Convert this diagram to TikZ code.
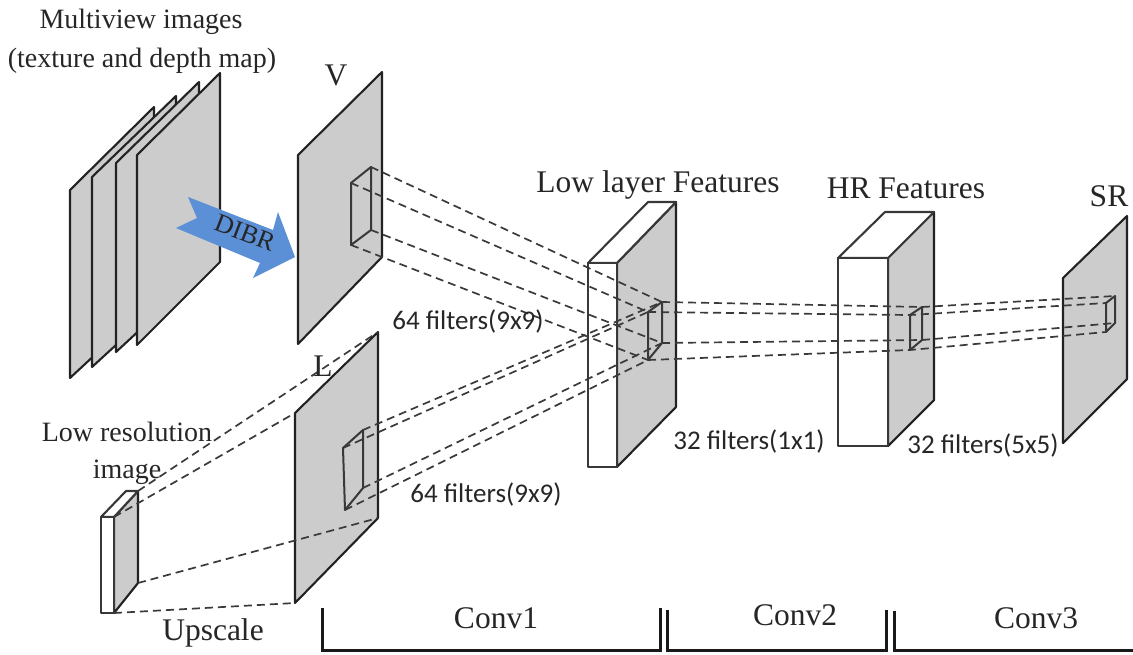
\documentclass[tikz,border=0pt]{standalone}
\usepackage{fontspec}
\setmainfont{Liberation Serif}
\newfontfamily\calfont{Carlito}
\usetikzlibrary{calc}
\definecolor{pl}{HTML}{CCCCCC}
\definecolor{ln}{HTML}{222222}
\definecolor{dsh}{HTML}{3A3A3A}
\definecolor{dibr}{HTML}{5B8FD6}
\tikzset{
  plane/.style={draw=ln,fill=pl,line width=2.1pt,line join=round},
  wface/.style={draw=ln!90,fill=white,line width=2.1pt,line join=round},
  inner/.style={draw=ln!90,line width=2pt,line join=round},
  dl/.style={draw=dsh,line width=1.7pt,dash pattern=on 8pt off 5pt},
  ser/.style={font=\fontsize{28}{28}\selectfont,text=black!85,inner sep=0pt},
  serb/.style={font=\fontsize{31.5}{32}\selectfont,text=black!85,inner sep=0pt},
  calb/.style={font=\calfont\fontsize{27}{27}\selectfont,text=black!85,inner sep=0pt},
  brk/.style={draw=black!90,line width=3pt,line join=miter},
}
\begin{document}
\begin{tikzpicture}[x=1pt,y=-1pt]
\useasboundingbox (0,0) rectangle (1133,654);
% coordinates
\coordinate (va) at (351,183);\coordinate (vb) at (371,167);\coordinate (vc) at (371,230);\coordinate (vd) at (351,245);
\coordinate (la) at (343,448);\coordinate (lb) at (363,430);\coordinate (lc) at (363,488);\coordinate (ld) at (345,510);
\coordinate (fa) at (648,312);\coordinate (fb) at (662,302);\coordinate (fc) at (662,343);\coordinate (fd) at (648,360);
\coordinate (ha) at (910,315);\coordinate (hb) at (922,307);\coordinate (hc) at (922,340);\coordinate (hd) at (910,350);
\coordinate (sa) at (1106,303);\coordinate (sb) at (1115,296);\coordinate (sc) at (1115,323);\coordinate (sd) at (1106,332);
\coordinate (ltl) at (295,413);\coordinate (ltr) at (378,332);\coordinate (lbr) at (378,518);\coordinate (lbl) at (295,603);
\coordinate (ia) at (138,491);\coordinate (ib) at (114,517);\coordinate (ic) at (138,583);\coordinate (id) at (114,613);
% multiview stack
\draw[plane] (70,190)--(154,107)--(154,300)--(70,378)--cycle;
\draw[plane] (92,177)--(176,96)--(176,290)--(92,367)--cycle;
\draw[plane] (116,163)--(199,82)--(199,275)--(116,352)--cycle;
\draw[plane] (137,155)--(220,73)--(220,262)--(137,345)--cycle;
% DIBR arrow
\fill[dibr] (188,197)--(197,218)--(176,228)--(260,263)--(253,278)--(295,257)--(278,212)--(273,230)--cycle;
\node[ser,rotate=-21,font=\fontsize{26}{26}\selectfont] (dibrlab) at (245,233) {DIBR};
% V plane
\draw[plane] (298,155)--(382,72)--(382,257)--(298,344)--cycle;
\draw[inner] (va)--(vb)--(vc)--(vd)--cycle;
% L plane
\draw[plane] (ltl)--(ltr)--(lbr)--(lbl)--cycle;
\draw[inner] (la)--(lb)--(lc)--(ld)--cycle;
% low-res block
\draw[plane] (114,517)--(138,491)--(138,583)--(114,613)--cycle;
\draw[wface] (101,517)--(126,491)--(138,491)--(114,517)--cycle;
\draw[wface] (101,517) rectangle (114,613);
% low layer block
\draw[plane] (617,263)--(676,202)--(676,407)--(617,467)--cycle;
\draw[wface] (588,263)--(648,202)--(676,202)--(617,263)--cycle;
\draw[wface] (588,263) rectangle (617,467);
\draw[inner] (fa)--(fb)--(fc)--(fd)--cycle;
% HR block
\draw[plane] (888,258)--(934,212)--(934,400)--(888,446)--cycle;
\draw[wface] (838,258)--(885,212)--(934,212)--(888,258)--cycle;
\draw[wface] (838,258) rectangle (888,446);
\draw[inner] (ha)--(hb)--(hc)--(hd)--cycle;
% SR plane
\draw[plane] (1063,278)--(1127,216)--(1127,379)--(1063,443)--cycle;
\draw[inner] (sa)--(sb)--(sc)--(sd)--cycle;
% dashed
\draw[dl] (vb)--(fb);\draw[dl] (va)--(fa);\draw[dl] (vc)--(fc);\draw[dl] (vd)--(fd);
\draw[dl] (lb)--(fb);\draw[dl] (la)--(fa);\draw[dl] (lc)--(fc);\draw[dl] (ld)--(fd);
\draw[dl] (ia)--(ltr);\draw[dl] (ib)--(ltl);\draw[dl] (ic)--(lbr);\draw[dl] (id)--(lbl);
\draw[dl] (fb)--(hb)--(sb);\draw[dl] (fa)--(ha)--(sa);\draw[dl] (fc)--(hc)--(sc);\draw[dl] (fd)--(hd)--(sd);
% brackets
\draw[brk] (322,608)--(322,650)--(660,650)--(660,608);
\draw[brk] (667,610)--(667,650)--(886,650)--(886,610);
\draw[brk] (894,611)--(894,650)--(1133,650);
% labels
\node[ser] (t1) at (141,22) {Multiview images};
\node[ser] (t2) at (142,61) {(texture and depth map)};
\node[serb] (t3) at (336,75) {V};
\node[serb] (t4) at (323,366) {L};
\node[ser] (t5) at (127,432) {Low resolution};
\node[ser] (t6) at (127,472) {image};
\node[serb] (t7) at (213,633) {Upscale};
\node[serb] (t8) at (658,185) {Low layer Features};
\node[serb] (t9) at (906,188) {HR Features};
\node[serb] (t10) at (1109,196) {SR};
\node[serb] (t11) at (496,618) {Conv1};
\node[serb] (t12) at (795,615) {Conv2};
\node[serb] (t13) at (1036,618) {Conv3};
\node[calb] (c1) at (468,321) {64 filters(9x9)};
\node[calb] (c2) at (486,494) {64 filters(9x9)};
\node[calb] (c3) at (749,441) {32 filters(1x1)};
\node[calb] (c4) at (983,445) {32 filters(5x5)};
\end{tikzpicture}
\end{document}
